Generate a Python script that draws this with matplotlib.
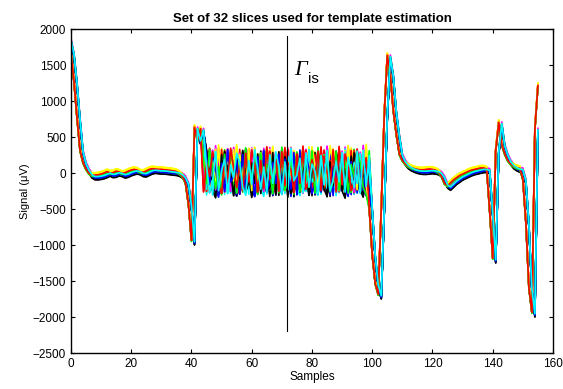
import numpy as np
import matplotlib
matplotlib.use("Agg")
import matplotlib.pyplot as plt

# ---- data ----
head = [1850, 1650, 1250, 750, 300, 130, 40, -20, -45, -45,
        -40, -30, -15, 5, -15, -10, 10, 0, -20, -10,
        10, 25, 35, 25, 0, -5, 15, 35, 45, 40,
        35, 35, 30, 25, 20, 15, 5, -20, -60, -150,
        -450, -950, 620, 450, 600]                      # samples 0..44
noise = [320, -180, 250, 100, -260, -120, 300, -240, 40, 200,
         -280, 120, -60, 280, 150, -200, -300, 180, -150, 330,
         60, -220, 90, -260, 260, -140, 300, 100, -280, 160,
         -230, 350, -100, -20, 210, -270, 280, -190, 130, 30,
         -290, 250, -160, 320, -240, -100, 170, -120, 290, -260,
         220, 0, -200, 310, -280]                      # samples 45..99
tail = [-500, -1150, -1550, -1700, -500, 800, 1620, 1350, 850, 520,
        250, 160, 110, 80, 60, 45, 35, 30, 30, 35,
        40, 35, 25, 0, -60, -160, -190, -150, -110, -80,
        -50, -30, -10, 10, 25, 35, 45, 55, 55, 40,
        -550, -1200, 300, 690, 380, 250, 160, 110, 80, 60,
        50, -100, -700, -1600, -1950, 600, 1200, 1200]  # samples 100..157

slice_shift = [0, 1, 1, 0, 1, 1, 0, 0, 0, 1, 0, 1, 1, 0, 0, 1,
               1, 0, 0, 1, 0, 0, 0, 1, 0, 1, 1, 0, 0, 1, 1, 0]
slice_offset = [-30, 5, 20, -10, 30, 45, -45, -20, 0, 15, -15, 35, 40, -35, -35, 10,
                25, 0, 20, 50, -50, -15, -5, 5, -25, 25, 35, -25, -25, 0, 15, -5]
slice_colors = ['#0000ff', '#00ff00', '#ff0000', '#00ffff', '#ff00ff', '#ffff00', '#000000']

n_samples = 156
marker_x = 71.7
marker_y = [-2200, 1900]

# ---- figure ----
plt.rcParams['font.family'] = ['Liberation Sans', 'DejaVu Sans']
fig = plt.figure(figsize=(5.63, 3.89), dpi=100)
ax = fig.add_axes([0.1261, 0.0925, 0.8561, 0.8329])

t = np.arange(n_samples)
head_a = np.array(head, float)
tail_a = np.array(tail, float)
noise_a = np.array(noise, float)
for i in range(32):
    full = np.concatenate([head_a, np.roll(noise_a, (7 * i) % len(noise)), tail_a])
    idx = np.clip(t + slice_shift[i], 0, len(full) - 1)
    ax.plot(t, full[idx] + slice_offset[i], color=slice_colors[i % 7], lw=1.2)

ax.plot([marker_x, marker_x], marker_y, color='k', lw=0.8)
ax.text(74.2, 1361, 'Γ', fontsize=16, family='Liberation Serif', style='italic',
        va='baseline', ha='left')
ax.text(78.6, 1250, 'is', fontsize=11, family='Liberation Sans', va='baseline', ha='left')

ax.set_xlim(0, 160)
ax.set_ylim(-2500, 2000)
ax.set_xticks(np.arange(0, 161, 20))
ax.set_yticks(np.arange(-2500, 2001, 500))
ax.tick_params(direction='in', top=True, right=True, labelsize=8.5, length=3, width=0.8)
for s in ax.spines.values():
    s.set_linewidth(1.0)
ax.set_xlabel('Samples', fontsize=8.5, labelpad=1)
ax.set_ylabel('Signal (μV)', fontsize=8, labelpad=2)
ax.set_title('Set of 32 slices used for template estimation', fontsize=9.5, fontweight='bold', pad=5)

fig.savefig('out.png', dpi=100)
